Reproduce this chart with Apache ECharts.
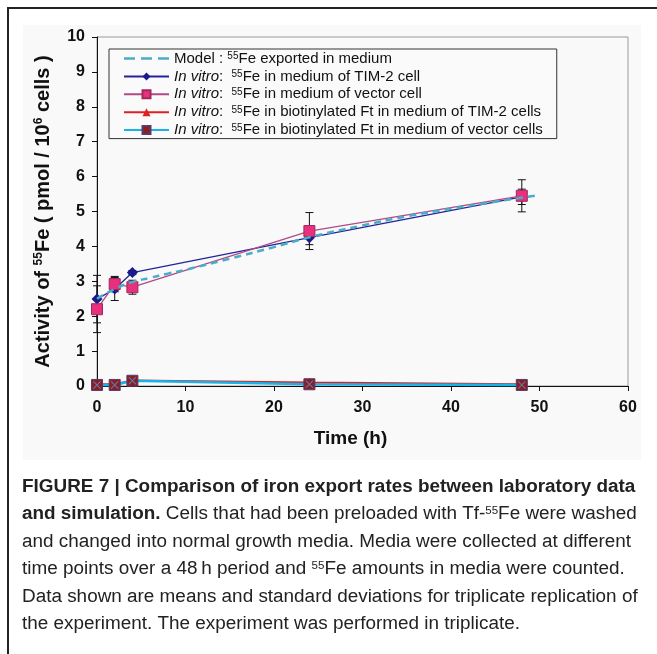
<!DOCTYPE html>
<html>
<head>
<meta charset="utf-8">
<script src="https://cdn.jsdelivr.net/npm/echarts@6/dist/echarts.min.js"></script>
<style>
  html, body { margin: 0; padding: 0; background: #fff; }
  #chart { width: 657px; height: 654px; }
</style>
</head>
<body>
<div id="chart"></div>
<script>
// data
const timePoints = [0, 2, 4, 24, 48];
const tim2Values = [2.49, 2.78, 3.25, 4.25, 5.42];
const tim2Sd = [0.68, 0.33, 0.06, 0.2, 0.22];
const vectorValues = [2.2, 2.92, 2.83, 4.44, 5.45];
const vectorSd = [0.67, 0.22, 0.2, 0.53, 0.46];
const bioTim2Values = [0.05, 0.05, 0.16, 0.1, 0.05];
const bioVectorValues = [0.03, 0.03, 0.15, 0.05, 0.03];

const modelTime = [0, 2, 4, 6, 8, 10, 15, 20, 24, 30, 35, 40, 45, 50];
const modelValues = [2.5, 2.78, 2.98, 3.1, 3.22, 3.33, 3.65, 3.98, 4.26, 4.6, 4.86, 5.08, 5.28, 5.47];

const seriesNames = [
    'Model : {sup|55}Fe exported in medium',
    '{it|In vitro}:  {sup|55}Fe in medium of TIM-2 cell',
    '{it|In vitro}:  {sup|55}Fe in medium of vector cell',
    '{it|In vitro}:  {sup|55}Fe in biotinylated Ft in medium of TIM-2 cells',
    '{it|In vitro}:  {sup|55}Fe in biotinylated Ft in medium of vector cells'
];

const captionLines = [
    '{b|FIGURE 7 | Comparison of iron export rates between laboratory data}',
    '{b|and simulation.} Cells that had been preloaded with Tf-{sup|55}Fe were washed',
    'and changed into normal growth media. Media were collected at different',
    'time points over a 48\u2009h period and {sup|55}Fe amounts in media were counted.',
    'Data shown are means and standard deviations for triplicate replication of',
    'the experiment. The experiment was performed in triplicate.'
];

const zip = (xs, ys) => xs.map((x, i) => [x, ys[i]]);

const chart = echarts.init(document.getElementById('chart'));

function errorBars(values, sds) {
    return {
        type: 'custom',
        z: 1,
        silent: true,
        data: timePoints.map((t, i) => [t, values[i], sds[i]]),
        renderItem: function (params, api) {
            const x = api.value(0), y = api.value(1), e = api.value(2);
            const hi = api.coord([x, y + e]);
            const lo = api.coord([x, y - e]);
            const style = { stroke: '#111', lineWidth: 1 };
            return {
                type: 'group',
                children: [
                    { type: 'line', shape: { x1: hi[0], y1: hi[1], x2: lo[0], y2: lo[1] }, style: style },
                    { type: 'line', shape: { x1: hi[0] - 4, y1: hi[1], x2: hi[0] + 4, y2: hi[1] }, style: style },
                    { type: 'line', shape: { x1: lo[0] - 4, y1: lo[1], x2: lo[0] + 4, y2: lo[1] }, style: style }
                ]
            };
        }
    };
}

const crossPath = 'path://M0,1L1,0L10,9L9,10ZM9,0L10,1L1,10L0,9Z';
const dashIcon = 'path://M0,4H11V6.6H0ZM17,4H28V6.6H17ZM34,4H45V6.6H34Z';

const option = {
    animation: false,
    backgroundColor: '#fff',
    textStyle: { fontFamily: 'Liberation Sans, Arial, sans-serif' },
    graphic: [
        { type: 'rect', z: -10, silent: true, shape: { x: 23, y: 25, width: 618, height: 435 }, style: { fill: '#f9f9f9' } },
        { type: 'line', shape: { x1: 8, y1: 8, x2: 657, y2: 8 }, style: { stroke: '#222', lineWidth: 2 } },
        { type: 'line', shape: { x1: 8, y1: 7, x2: 8, y2: 654 }, style: { stroke: '#222', lineWidth: 2 } }
    ].concat(captionLines.map((line, i) => ({
        type: 'text',
        x: 22,
        y: 478 + i * 27.4,
        scaleX: 1.05,
        style: {
            text: line,
            fontFamily: 'Liberation Sans, Arial, sans-serif',
            fontSize: 18,
            fill: '#222',
            rich: {
                b: { fontWeight: 'bold', fontSize: 18, fill: '#222' },
                sup: { fontSize: 11, verticalAlign: 'top', fill: '#222' }
            }
        }
    }))),
    grid: {
        left: 97, right: 29, top: 37, bottom: 268,
        show: true, borderColor: '#999', borderWidth: 1, backgroundColor: 'transparent'
    },
    legend: {
        orient: 'vertical',
        left: 109, top: 49,
        itemWidth: 45, itemHeight: 10, itemGap: 2.9,
        padding: [2, 14, 1, 14],
        borderColor: '#333', borderWidth: 1,
        backgroundColor: '#fafafa',
        data: seriesNames.map((n, i) => i === 0 ? { name: n, icon: dashIcon, itemStyle: { color: '#4bacc6' } } : n),
        formatter: name => name,
        textStyle: {
            fontSize: 15, color: '#111', lineHeight: 14,
            rich: {
                it: { fontStyle: 'italic', fontSize: 15, color: '#111', lineHeight: 14 },
                sup: { fontSize: 10, verticalAlign: 'top', color: '#111', lineHeight: 14 }
            }
        }
    },
    xAxis: {
        type: 'value', min: 0, max: 60, interval: 10,
        name: 'Time (h)', nameLocation: 'middle', nameGap: 43,
        nameTextStyle: { fontSize: 19, fontWeight: 'bold', color: '#111', padding: [0, 24, 0, 0] },
        axisLine: { lineStyle: { color: '#111' } },
        axisTick: { length: 5, lineStyle: { color: '#111' } },
        axisLabel: { fontSize: 16, fontWeight: 'bold', color: '#111', margin: 14 },
        splitLine: { show: false }
    },
    yAxis: {
        type: 'value', min: 0, max: 10, interval: 1,
        name: 'Activity of {sup|55}Fe ( pmol / 10{sup|6} cells )', nameLocation: 'middle', nameGap: 44,
        nameTextStyle: {
            fontSize: 20, fontWeight: 'bold', color: '#111',
            rich: { sup: { fontSize: 12, fontWeight: 'bold', verticalAlign: 'top', color: '#111' } }
        },
        axisLine: { show: true, lineStyle: { color: '#111' } },
        axisTick: { show: true, length: 5, lineStyle: { color: '#111' } },
        axisLabel: { fontSize: 16, fontWeight: 'bold', color: '#111', margin: 12 },
        splitLine: { show: false }
    },
    series: [
        errorBars(tim2Values, tim2Sd),
        errorBars(vectorValues, vectorSd),
        {
            name: seriesNames[1], type: 'line', z: 3,
            data: zip(timePoints, tim2Values),
            symbol: 'diamond', symbolSize: 11,
            lineStyle: { color: '#23239a', width: 1.3 },
            itemStyle: { color: '#1a1a8a' }
        },
        {
            name: seriesNames[2], type: 'line', z: 4,
            data: zip(timePoints, vectorValues),
            symbol: 'rect', symbolSize: 11,
            lineStyle: { color: '#b04a86', width: 1.3 },
            itemStyle: { color: '#e8307f', borderColor: '#a0285a', borderWidth: 1 }
        },
        {
            name: seriesNames[0], type: 'line', z: 5,
            data: zip(modelTime, modelValues),
            smooth: true, showSymbol: false, symbol: 'none',
            lineStyle: { color: '#4bacc6', width: 2.5, type: [7, 5] },
            itemStyle: { color: '#4bacc6' }
        },
        {
            name: seriesNames[3], type: 'line', z: 3,
            data: zip(timePoints, bioTim2Values),
            symbol: 'triangle', symbolSize: 9,
            lineStyle: { color: '#e02020', width: 2 },
            itemStyle: { color: '#e02020' }
        },
        {
            name: seriesNames[4], type: 'line', z: 4,
            data: zip(timePoints, bioVectorValues),
            symbol: 'rect', symbolSize: 11,
            lineStyle: { color: '#16b4ea', width: 2.5 },
            itemStyle: { color: '#8b1e1e', borderColor: '#5a3a6a', borderWidth: 1 }
        },
        {
            name: 'cross', type: 'line', z: 6, silent: true,
            data: zip(timePoints, bioVectorValues),
            symbol: crossPath, symbolSize: 8,
            lineStyle: { width: 0, opacity: 0 },
            itemStyle: { color: '#5a7ab8' }
        }
    ]
};

chart.setOption(option);
</script>
</body>
</html>
